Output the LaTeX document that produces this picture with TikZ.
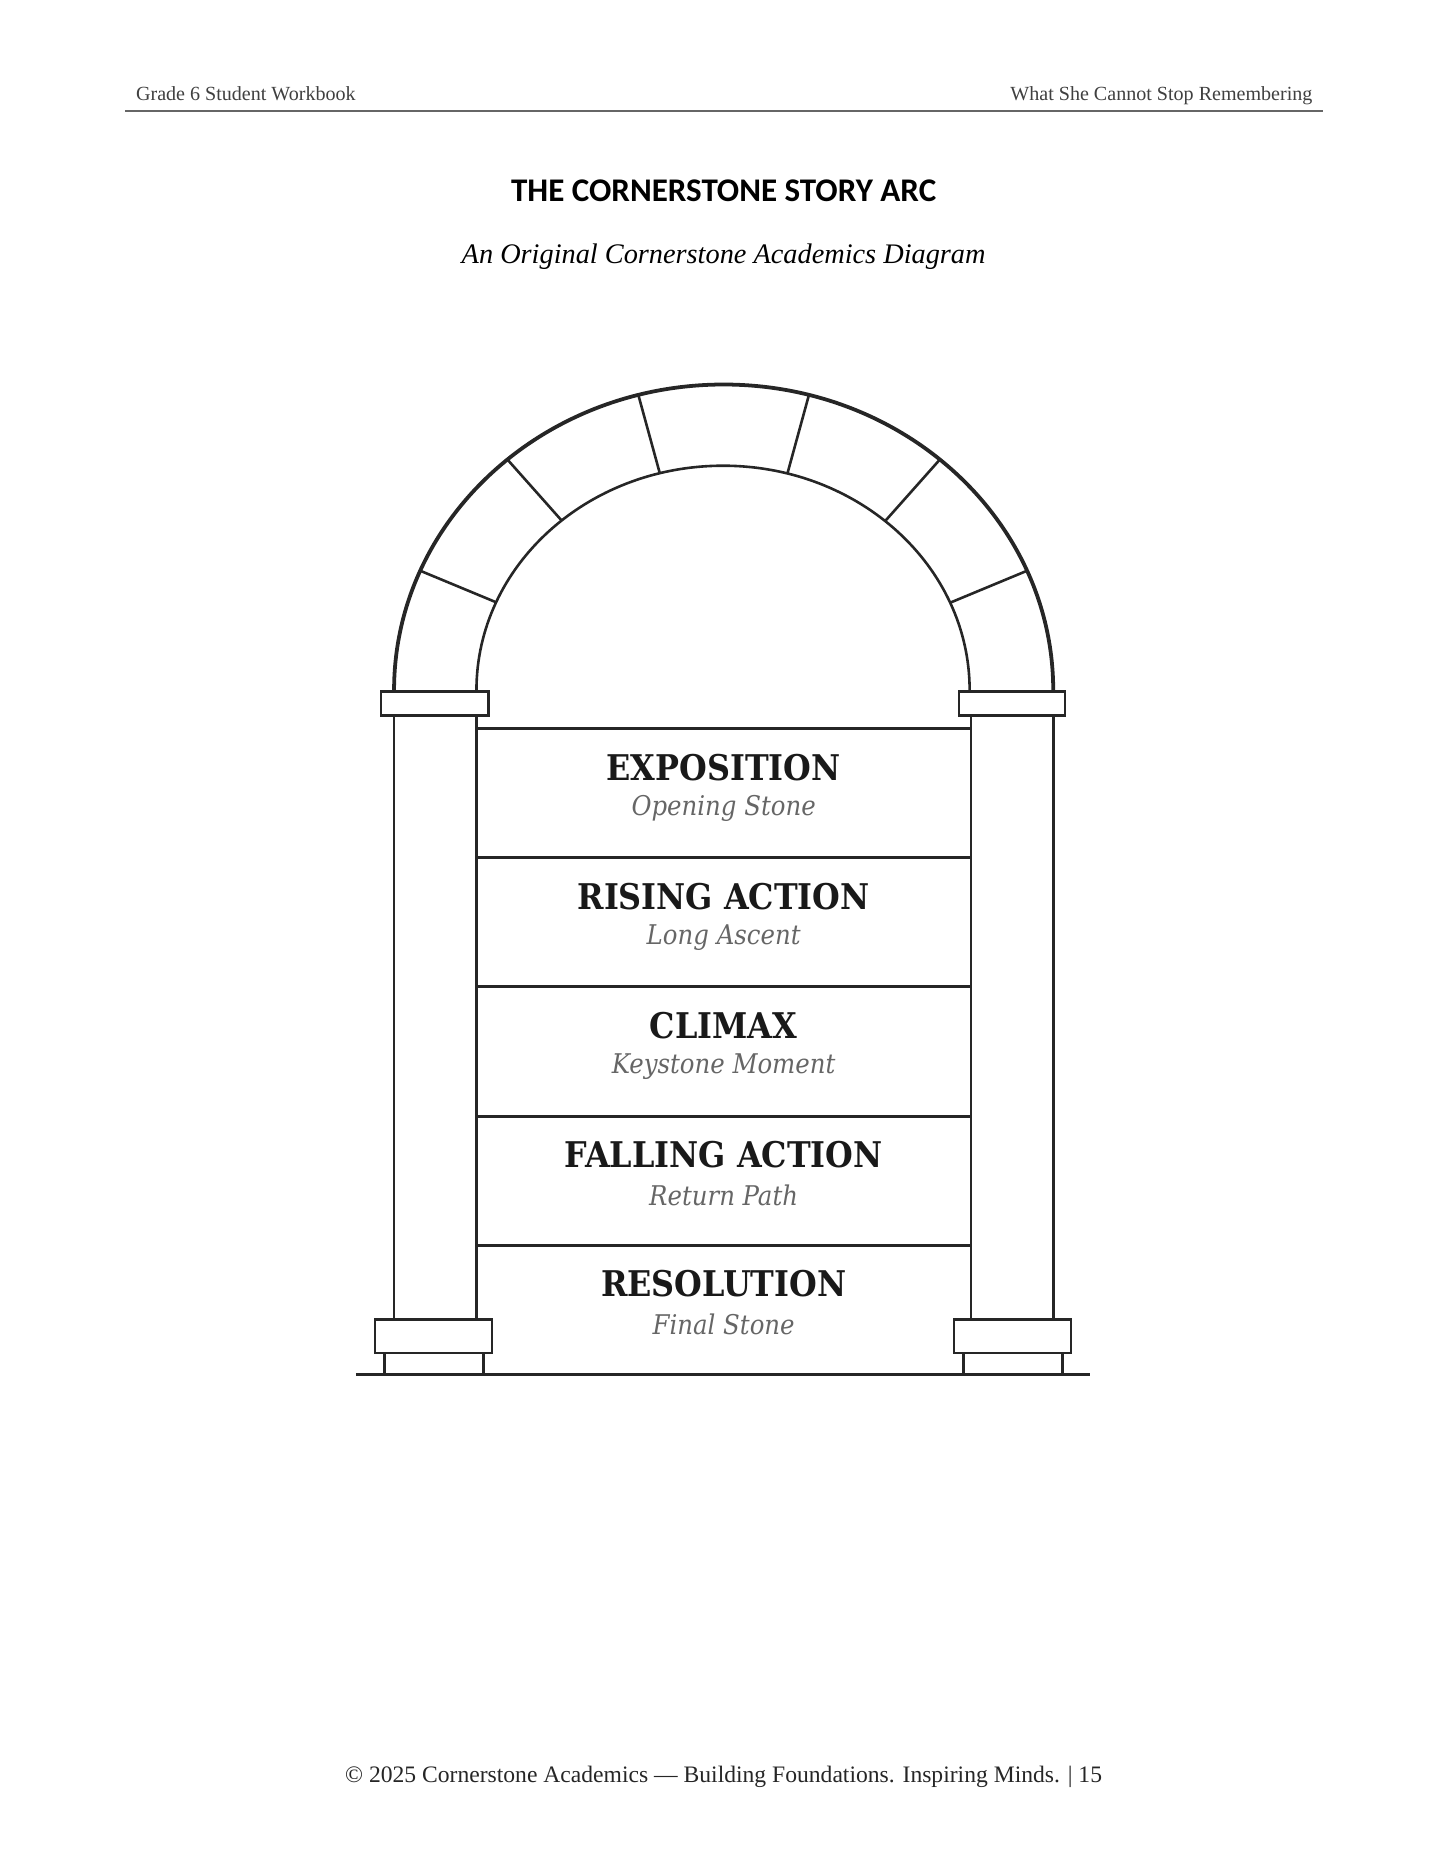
\documentclass[tikz,border=0pt]{standalone}
\usepackage{fontspec}
\setmainfont{Liberation Serif}
\newfontfamily\titlefont{Carlito}
\newfontfamily\labfont{DejaVu Serif Condensed}
\begin{document}
\begin{tikzpicture}[x=0.506pt,y=-0.506pt,
  thin/.style={line width=1.1pt,black!85},
  thick2/.style={line width=1.6pt,black!85},
  lab/.style={font=\labfont\bfseries\fontsize{15}{17}\selectfont,text=black!90},
  sublab/.style={font=\labfont\itshape\fontsize{11.5}{13}\selectfont,text=black!60}]
\useasboundingbox (0,0) rectangle (1210,1566);
% header
\node[anchor=base west,font=\fontsize{8.5}{10}\selectfont,text=black!75] (hl) at (107,84) {Grade 6 Student Workbook};
\node[anchor=base east,font=\fontsize{8.5}{10}\selectfont,text=black!75] (hr) at (1106,84) {What She Cannot Stop Remembering};
\draw[line width=0.5pt,black!60] (105,93) -- (1108,93);
\node[font=\titlefont\bfseries\fontsize{14}{16}\selectfont] (title) at (606,160) {THE CORNERSTONE STORY ARC};
\node[font=\itshape\fontsize{12}{14}\selectfont] (sub) at (606,215) {An Original Cornerstone Academics Diagram};
% arch
\draw[thick2] (330,578) arc[start angle=180,end angle=0,x radius=276,y radius=-256];
\draw[thin] (399,578) arc[start angle=180,end angle=0,x radius=206.5,y radius=-188];
\foreach \a in {23,49,75,105,131,157}{
  \draw[thin] ({606+276*cos(\a)},{578-256*sin(\a)}) -- ({606+206.5*cos(\a)},{578-188*sin(\a)});
}
% capitals
\draw[thin] (319,579) rectangle (409,599);
\draw[thin] (803,579) rectangle (892,599);
% columns
\draw[thin] (330,599) -- (330,1105) (399,599) -- (399,1105);
\draw[thin] (813,599) -- (813,1105) (882,599) -- (882,1105);
% panels
\foreach \yy in {610,718,826,935,1043}{\draw[thin] (399,\yy) -- (813,\yy);}
% bases
\draw[thin] (314,1105) rectangle (412,1133);
\draw[thin] (322,1133) rectangle (405,1151);
\draw[thin] (799,1105) rectangle (897,1133);
\draw[thin] (807,1133) rectangle (890,1151);
\draw[thin] (298,1151) -- (913,1151);
% labels
\node[lab] (l1) at (606,643) {EXPOSITION};
\node[sublab] (s1) at (606,677) {Opening Stone};
\node[lab] (l2) at (606,751) {RISING ACTION};
\node[sublab] (s2) at (606,785) {Long Ascent};
\node[lab] (l3) at (606,859) {CLIMAX};
\node[sublab] (s3) at (606,893) {Keystone Moment};
\node[lab] (l4) at (606,967) {FALLING ACTION};
\node[sublab] (s4) at (606,1001) {Return Path};
\node[lab] (l5) at (606,1075) {RESOLUTION};
\node[sublab] (s5) at (606,1109) {Final Stone};
% footer
\node[font=\fontsize{10}{12}\selectfont,text=black!85] (foot) at (606,1488) {© 2025 Cornerstone Academics — Building Foundations. Inspiring Minds. | 15};
\end{tikzpicture}
\end{document}
